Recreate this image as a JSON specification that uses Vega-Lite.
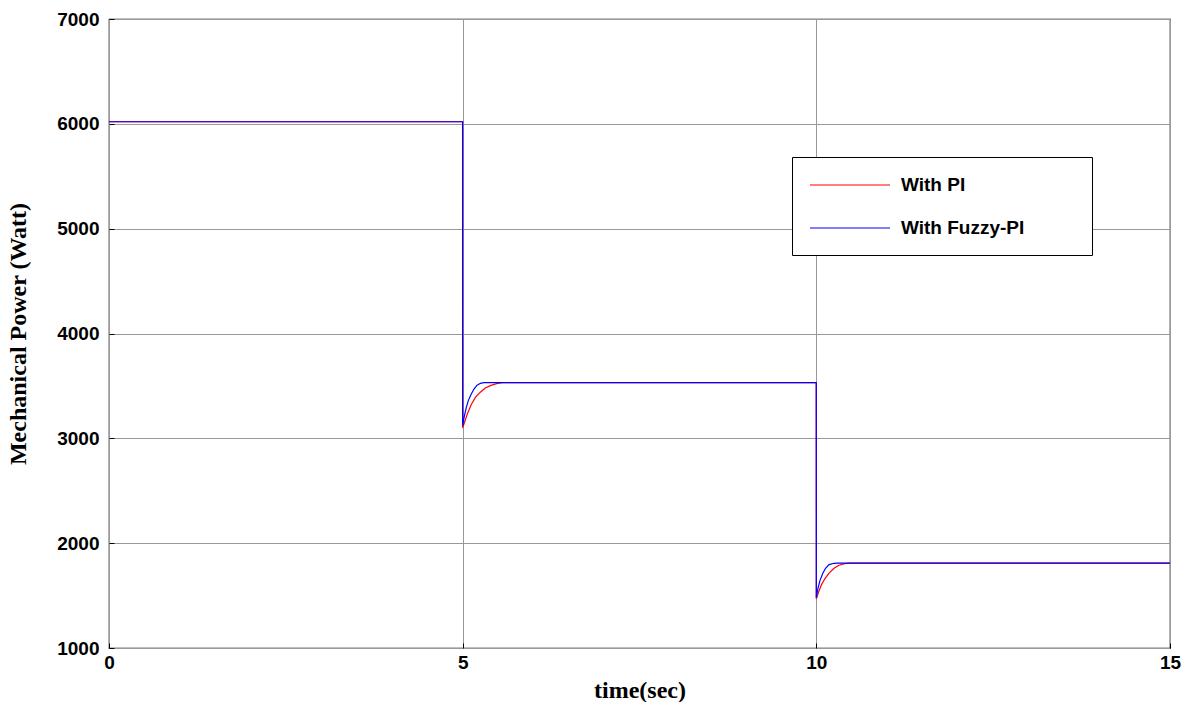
{
  "$schema": "https://vega.github.io/schema/vega-lite/v6.json",
  "width": 1061,
  "height": 629,
  "autosize": "none",
  "padding": {"left": 109, "top": 19, "right": 22, "bottom": 54},
  "background": "white",
  "config": {"view": {"stroke": "black", "strokeWidth": 1.2}},
  "data": {"values": [
    {"t": 0, "p": 6020, "s": "With PI"},
    {"t": 4.999, "p": 6020, "s": "With PI"},
    {"t": 5.0, "p": 3100, "s": "With PI"},
    {"t": 5.03, "p": 3160, "s": "With PI"},
    {"t": 5.07, "p": 3240, "s": "With PI"},
    {"t": 5.12, "p": 3320, "s": "With PI"},
    {"t": 5.18, "p": 3390, "s": "With PI"},
    {"t": 5.25, "p": 3440, "s": "With PI"},
    {"t": 5.32, "p": 3480, "s": "With PI"},
    {"t": 5.4, "p": 3505, "s": "With PI"},
    {"t": 5.48, "p": 3522, "s": "With PI"},
    {"t": 5.56, "p": 3532, "s": "With PI"},
    {"t": 9.999, "p": 3532, "s": "With PI"},
    {"t": 10.0, "p": 1470, "s": "With PI"},
    {"t": 10.03, "p": 1530, "s": "With PI"},
    {"t": 10.07, "p": 1600, "s": "With PI"},
    {"t": 10.12, "p": 1660, "s": "With PI"},
    {"t": 10.18, "p": 1715, "s": "With PI"},
    {"t": 10.25, "p": 1760, "s": "With PI"},
    {"t": 10.32, "p": 1790, "s": "With PI"},
    {"t": 10.4, "p": 1805, "s": "With PI"},
    {"t": 10.48, "p": 1810, "s": "With PI"},
    {"t": 15, "p": 1810, "s": "With PI"},
    {"t": 0, "p": 6020, "s": "With Fuzzy-PI"},
    {"t": 4.999, "p": 6020, "s": "With Fuzzy-PI"},
    {"t": 5.0, "p": 3120, "s": "With Fuzzy-PI"},
    {"t": 5.02, "p": 3200, "s": "With Fuzzy-PI"},
    {"t": 5.05, "p": 3290, "s": "With Fuzzy-PI"},
    {"t": 5.08, "p": 3360, "s": "With Fuzzy-PI"},
    {"t": 5.12, "p": 3420, "s": "With Fuzzy-PI"},
    {"t": 5.16, "p": 3470, "s": "With Fuzzy-PI"},
    {"t": 5.2, "p": 3505, "s": "With Fuzzy-PI"},
    {"t": 5.25, "p": 3525, "s": "With Fuzzy-PI"},
    {"t": 5.3, "p": 3532, "s": "With Fuzzy-PI"},
    {"t": 9.999, "p": 3532, "s": "With Fuzzy-PI"},
    {"t": 10.0, "p": 1480, "s": "With Fuzzy-PI"},
    {"t": 10.02, "p": 1560, "s": "With Fuzzy-PI"},
    {"t": 10.05, "p": 1640, "s": "With Fuzzy-PI"},
    {"t": 10.09, "p": 1710, "s": "With Fuzzy-PI"},
    {"t": 10.13, "p": 1760, "s": "With Fuzzy-PI"},
    {"t": 10.18, "p": 1795, "s": "With Fuzzy-PI"},
    {"t": 10.25, "p": 1808, "s": "With Fuzzy-PI"},
    {"t": 10.3, "p": 1810, "s": "With Fuzzy-PI"},
    {"t": 15, "p": 1810, "s": "With Fuzzy-PI"}
  ]},
  "mark": {"type": "line", "strokeWidth": 1.2, "interpolate": "linear"},
  "encoding": {
    "x": {
      "field": "t", "type": "quantitative",
      "scale": {"domain": [0, 15], "nice": false, "zero": false},
      "axis": {
        "values": [0, 5, 10, 15],
        "format": "d",
        "title": "time(sec)",
        "titleFont": "Liberation Serif", "titleFontSize": 24, "titleFontWeight": "bold",
        "titleColor": "black", "titlePadding": 6,
        "labelFont": "Liberation Sans", "labelFontSize": 19, "labelFontWeight": "bold",
        "labelColor": "black", "labelPadding": 10,
        "grid": true, "gridColor": "#999999", "gridWidth": 1,
        "domain": false, "tickColor": "black", "tickSize": -5, "labelFlush": false
      }
    },
    "y": {
      "field": "p", "type": "quantitative",
      "scale": {"domain": [1000, 7000], "nice": false, "zero": false},
      "axis": {
        "values": [1000, 2000, 3000, 4000, 5000, 6000, 7000],
        "format": "d",
        "title": "Mechanical Power (Watt)",
        "titleFont": "Liberation Serif", "titleFontSize": 24, "titleFontWeight": "bold",
        "titleColor": "black", "titlePadding": 26,
        "labelFont": "Liberation Sans", "labelFontSize": 19, "labelFontWeight": "bold",
        "labelColor": "black", "labelPadding": 15,
        "grid": true, "gridColor": "#999999", "gridWidth": 1,
        "domain": false, "tickColor": "black", "tickSize": -5, "labelFlush": false
      }
    },
    "color": {
      "field": "s", "type": "nominal",
      "scale": {"domain": ["With PI", "With Fuzzy-PI"], "range": ["#ff0000", "#0000ff"]},
      "legend": {
        "title": "\u00a0",
        "titleOrient": "right",
        "titlePadding": 51,
        "titleFontSize": 10,
        "orient": "none", "legendX": 683, "legendY": 138,
        "direction": "vertical",
        "strokeColor": "black", "fillColor": "white",
        "padding": 17,
        "symbolType": "M-4,0H4", "symbolSize": 400, "symbolStrokeWidth": 1.2,
        "symbolOffset": 30,
        "labelFont": "Liberation Sans", "labelFontSize": 19, "labelFontWeight": "bold",
        "labelColor": "black", "labelOffset": 40, "rowPadding": 22,
        "labelLimit": 400
      }
    },
    "order": {"field": "t", "type": "quantitative"}
  }
}
